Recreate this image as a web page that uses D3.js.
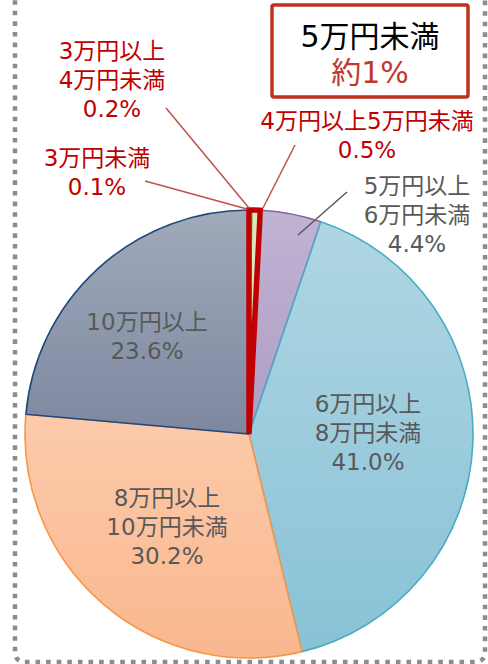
<!DOCTYPE html>
<html lang="ja">
<head>
<meta charset="utf-8">
<script src="https://cdn.jsdelivr.net/npm/d3@7"></script>
<style>
  html, body { margin: 0; padding: 0; background: #fff; }
  svg { display: block; font-family: "DejaVu Sans", "Noto Sans CJK JP", sans-serif; }
</style>
</head>
<body>
<svg id="chart" width="488" height="664"></svg>
<script>
// 月額の分布（合計100%）
const categories = ["3万円未満", "3万円以上4万円未満", "4万円以上5万円未満", "5万円以上6万円未満", "6万円以上8万円未満", "8万円以上10万円未満", "10万円以上"];
const shares = [0.1, 0.2, 0.5, 4.4, 41.0, 30.2, 23.6];
// 表示用ラベル（改行ごと）
const labelLines = [
  ["3万円未満"],
  ["3万円以上", "4万円未満"],
  ["4万円以上5万円未満"],
  ["5万円以上", "6万円未満"],
  ["6万円以上", "8万円未満"],
  ["8万円以上", "10万円未満"],
  ["10万円以上"]
];
const calloutTitle = "5万円未満";
const calloutValue = "約1%";
const highlightCount = 3; // 5万円未満にあたる先頭3区分

const width = 488, height = 664;
const cx = 249, cy = 434, R = 224;

// 塗り（上→下のグラデーション）と枠線
const fills = [
  ["#e4edd0", "#d4e2b6"],
  ["#a9c66c", "#93b455"],
  ["#dbe7c3", "#cfdfb0"],
  ["#c0b3d3", "#ae9dc5"],
  ["#b0d6e3", "#88c2d6"],
  ["#fccbab", "#f9b78e"],
  ["#a0aaba", "#7d88a0"]
];
const strokes = ["none", "none", "none", "#8064a2", "#4bacc6", "#f79646", "#1f497d"];

// ラベル配置（中心座標、引出線の端点）
const labelLayout = [
  { x: 97,  y: 166, color: "#c00000", line: [[145, 181], [247, 209]], lineColor: "#c0504d" },
  { x: 112, y: 59,  color: "#c00000", line: [[166, 108], [249, 208]], lineColor: "#c0504d" },
  { x: 367, y: 129, color: "#c00000", line: [[295, 145], [263, 208]], lineColor: "#c0504d" },
  { x: 417, y: 194, color: "#595959", line: [[347, 192], [298, 235]], lineColor: "#595959" },
  { x: 368, y: 412, color: "#595959" },
  { x: 167, y: 506, color: "#595959" },
  { x: 147, y: 330, color: "#595959" }
];
const lineGap = 29;
const labelSize = 23;

const svg = d3.select("#chart");
const defs = svg.append("defs");

fills.forEach((f, i) => {
  const g = defs.append("linearGradient")
    .attr("id", "grad" + i)
    .attr("x1", 0).attr("y1", 0).attr("x2", 0).attr("y2", 1);
  g.append("stop").attr("offset", "0%").attr("stop-color", f[0]);
  g.append("stop").attr("offset", "100%").attr("stop-color", f[1]);
});

// 点線の外枠
svg.append("rect")
  .attr("x", 15).attr("y", -30)
  .attr("width", 470).attr("height", 692)
  .attr("rx", 9).attr("ry", 9)
  .attr("fill", "none")
  .attr("stroke", "#8c8c8c")
  .attr("stroke-width", 4.5)
  .attr("stroke-dasharray", "4.6 6");

// 隣の図から続く文字の端
svg.append("g")
  .attr("fill", "#c00000")
  .attr("font-size", labelSize)
  .attr("text-anchor", "end")
  .selectAll("text")
  .data(["以上", "未満"])
  .join("text")
  .attr("x", 1)
  .attr("y", (d, i) => 199 + i * lineGap)
  .text(d => d);

// 円グラフ
const pie = d3.pie().sort(null).value(d => d)(shares);
const arc = d3.arc().innerRadius(0).outerRadius(R);

const g = svg.append("g").attr("transform", `translate(${cx},${cy})`);
g.selectAll("path.slice")
  .data(pie)
  .join("path")
  .attr("class", "slice")
  .attr("d", arc)
  .attr("fill", (d, i) => `url(#grad${i})`)
  .attr("stroke", (d, i) => strokes[i])
  .attr("stroke-width", 1.6)
  .attr("stroke-linejoin", "round");

// 5万円未満の区分をまとめて赤枠で囲む
const hiStart = pie[0].startAngle;
const hiEnd = pie[highlightCount - 1].endAngle;
g.append("path")
  .attr("d", d3.arc().innerRadius(0).outerRadius(R)({ startAngle: hiStart, endAngle: hiEnd }))
  .attr("fill", "none")
  .attr("stroke", "#c00000")
  .attr("stroke-width", 5.5)
  .attr("stroke-linejoin", "miter")
  .attr("stroke-miterlimit", 4);

// 引出線
svg.append("g").selectAll("line")
  .data(labelLayout.filter(d => d.line))
  .join("line")
  .attr("x1", d => d.line[0][0]).attr("y1", d => d.line[0][1])
  .attr("x2", d => d.line[1][0]).attr("y2", d => d.line[1][1])
  .attr("stroke", d => d.lineColor)
  .attr("stroke-width", 1.5);

// ラベル
const fmt = d3.format(".1f");
const labels = svg.append("g").attr("font-size", labelSize).attr("text-anchor", "middle");
shares.forEach((v, i) => {
  const lay = labelLayout[i];
  const lines = labelLines[i].concat([fmt(v) + "%"]);
  const t = labels.append("text").attr("fill", lay.color);
  lines.forEach((s, k) => {
    t.append("tspan").attr("x", lay.x).attr("y", lay.y + k * lineGap).text(s);
  });
});

// 注記ボックス
const box = svg.append("g");
box.append("rect")
  .attr("x", 272).attr("y", 5)
  .attr("width", 196).attr("height", 92)
  .attr("rx", 2)
  .attr("fill", "#fff")
  .attr("stroke", "#c0311c")
  .attr("stroke-width", 3.5);
box.append("text")
  .attr("x", 370).attr("y", 47)
  .attr("text-anchor", "middle")
  .attr("font-size", 30)
  .attr("fill", "#000")
  .text(calloutTitle);
box.append("text")
  .attr("x", 370).attr("y", 83)
  .attr("text-anchor", "middle")
  .attr("font-size", 30)
  .attr("fill", "#c0392b")
  .text(calloutValue);
</script>
</body>
</html>
